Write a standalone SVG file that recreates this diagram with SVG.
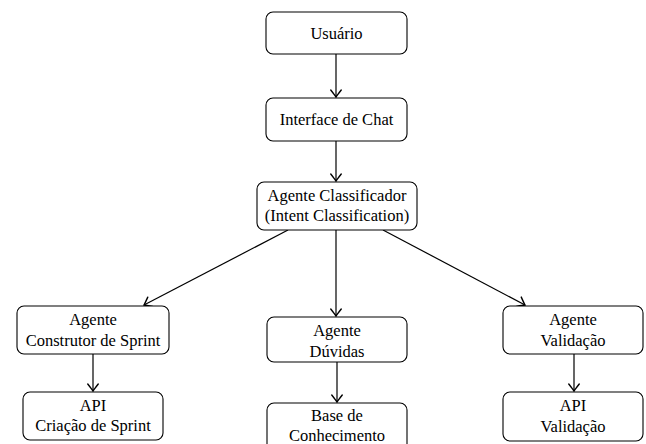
<svg xmlns="http://www.w3.org/2000/svg" width="646" height="444" viewBox="0 0 646 444">
<style>
.box{fill:#fff;stroke:#000;stroke-width:1.1}
text{font-family:"Liberation Serif","Times New Roman",serif;font-size:16.5px;fill:#000;text-anchor:middle}
.c line{stroke:#000;stroke-width:1.2;marker-end:url(#ah)}
</style>
<defs>
<marker id="ah" markerUnits="userSpaceOnUse" markerWidth="14" markerHeight="14" viewBox="-8 -6 10 12" refX="0" refY="0" orient="auto">
<path d="M-6,-4.5 Q-1.5,-1 0,0 Q-1.5,1 -6,4.5" fill="none" stroke="#000" stroke-width="1.2" stroke-linecap="round"/>
</marker>
</defs>
<rect width="646" height="444" fill="#fff"/>
<g class="c" id="connectors">
<line x1="336" y1="54" x2="336" y2="97"/>
<line x1="336" y1="141" x2="336" y2="181"/>
<line x1="336" y1="230" x2="336" y2="316"/>
<line x1="288" y1="230" x2="144" y2="305"/>
<line x1="383" y1="230" x2="525" y2="305"/>
<line x1="93" y1="354" x2="93" y2="391"/>
<line x1="337" y1="362" x2="337" y2="402"/>
<line x1="574" y1="354" x2="574" y2="391"/>
</g>
<g id="usuario"><rect class="box" x="266" y="12" width="141" height="42" rx="7"/><text x="336.5" y="38.5">Usuário</text></g>
<g id="chat"><rect class="box" x="266" y="98" width="141" height="43" rx="7"/><text x="336.5" y="125">Interface de Chat</text></g>
<g id="classificador"><rect class="box" x="257" y="182" width="160" height="48" rx="7"/><text x="337" y="200.5">Agente Classificador</text><text x="337" y="220.5">(Intent Classification)</text></g>
<g id="construtor"><rect class="box" x="17" y="306" width="152" height="48" rx="7"/><text x="93" y="325">Agente</text><text x="93" y="345.5">Construtor de Sprint</text></g>
<g id="duvidas"><rect class="box" x="267" y="317" width="140" height="45" rx="7"/><text x="337" y="336">Agente</text><text x="337" y="356.5">Dúvidas</text></g>
<g id="validacao"><rect class="box" x="503" y="306" width="140" height="48" rx="7"/><text x="573" y="325">Agente</text><text x="573" y="345.5">Validação</text></g>
<g id="api-criacao"><rect class="box" x="23" y="392" width="140" height="48" rx="7"/><text x="93" y="410.5">API</text><text x="93" y="431">Criação de Sprint</text></g>
<g id="base"><rect class="box" x="267" y="403" width="140" height="48" rx="7"/><text x="337" y="421">Base de</text><text x="337" y="440.5">Conhecimento</text></g>
<g id="api-validacao"><rect class="box" x="503" y="392" width="140" height="49" rx="7"/><text x="573" y="411">API</text><text x="573" y="431.5">Validação</text></g>
</svg>
